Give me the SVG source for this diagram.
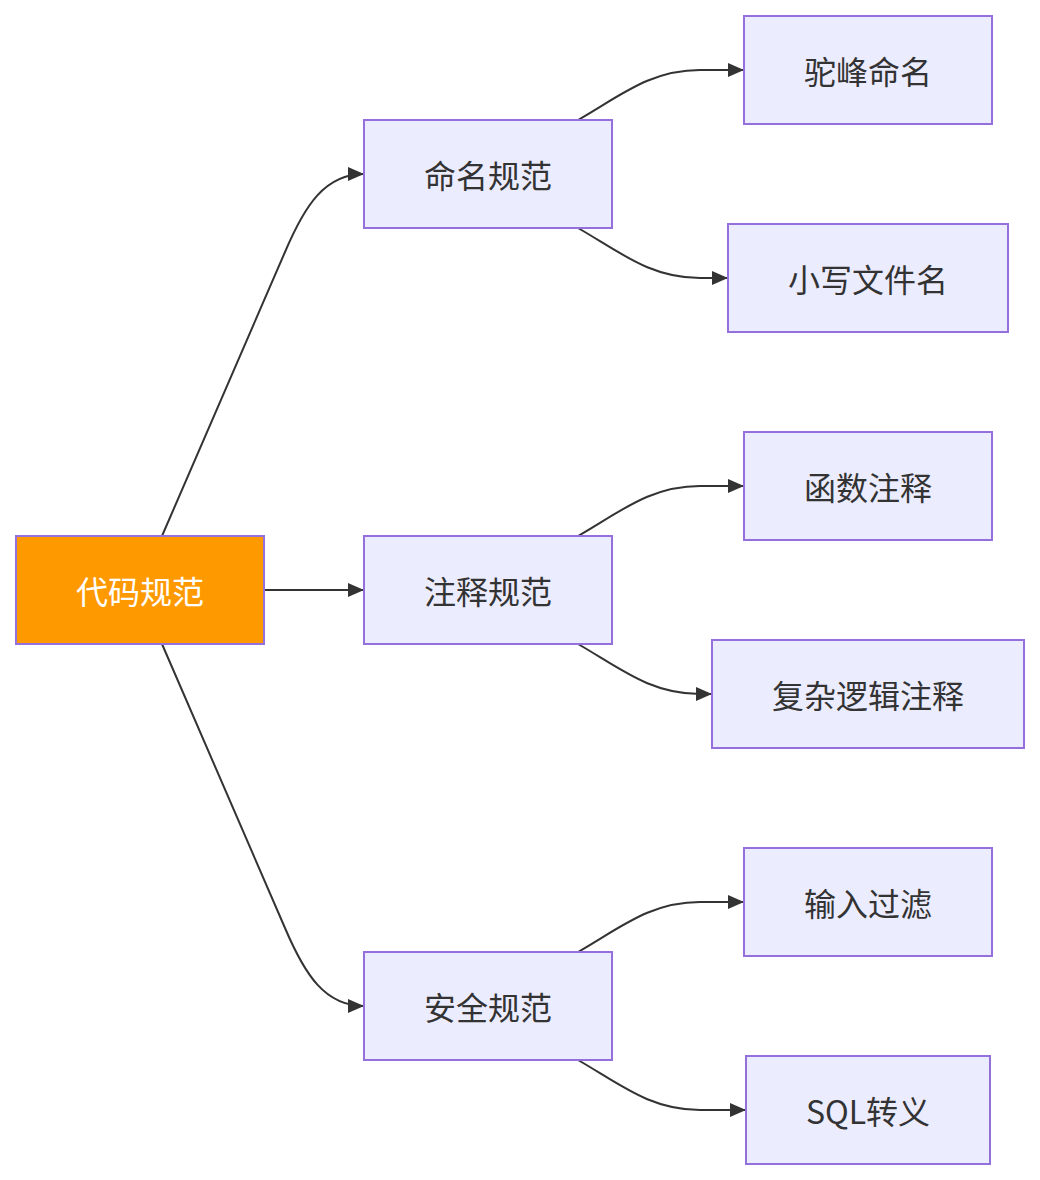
<svg xmlns="http://www.w3.org/2000/svg" width="1040" height="1180" viewBox="0 0 1040 1180">
<style>
.node rect{fill:#ECECFF;stroke:#9370DB;stroke-width:2}
.node text{font-family:"Noto Sans CJK SC","Noto Sans",sans-serif;font-size:32px;fill:#333;text-anchor:middle;dominant-baseline:central}
#root rect{fill:#ff9900}
#root text{fill:#fff}
.edge{fill:none;stroke:#333;stroke-width:2}
</style>
<defs>
<marker id="arr" markerUnits="userSpaceOnUse" markerWidth="16" markerHeight="14" refX="16" refY="7" orient="auto">
<path d="M0,0 L16,7 L0,14 z" fill="#333"/>
</marker>
</defs>
<rect width="1040" height="1180" fill="#fff"/>
<g id="edges">
<path class="edge" marker-end="url(#arr)" d="M162,536 L285,252 C305,205 325,174 364,174"/>
<path class="edge" marker-end="url(#arr)" d="M264,590 L364,590"/>
<path class="edge" marker-end="url(#arr)" d="M162,644 L285,928 C305,975 325,1006 364,1006"/>
<path class="edge" marker-end="url(#arr)" d="M578,120 C620,96 650,70 700,70 L744,70"/>
<path class="edge" marker-end="url(#arr)" d="M578,228 C620,252 650,278 700,278 L728,278"/>
<path class="edge" marker-end="url(#arr)" d="M578,536 C620,512 650,486 700,486 L744,486"/>
<path class="edge" marker-end="url(#arr)" d="M578,644 C620,668 650,694 700,694 L712,694"/>
<path class="edge" marker-end="url(#arr)" d="M578,952 C620,928 650,902 700,902 L744,902"/>
<path class="edge" marker-end="url(#arr)" d="M578,1060 C620,1084 650,1110 700,1110 L746,1110"/>
</g>
<g id="root" class="node"><rect x="16" y="536" width="248" height="108"/><text x="140" y="590">代码规范</text></g>
<g id="naming" class="node"><rect x="364" y="120" width="248" height="108"/><text x="488" y="174">命名规范</text></g>
<g id="comment" class="node"><rect x="364" y="536" width="248" height="108"/><text x="488" y="590">注释规范</text></g>
<g id="security" class="node"><rect x="364" y="952" width="248" height="108"/><text x="488" y="1006">安全规范</text></g>
<g id="camel" class="node"><rect x="744" y="16" width="248" height="108"/><text x="868" y="70">驼峰命名</text></g>
<g id="lowerfile" class="node"><rect x="728" y="224" width="280" height="108"/><text x="868" y="278">小写文件名</text></g>
<g id="funccomment" class="node"><rect x="744" y="432" width="248" height="108"/><text x="868" y="486">函数注释</text></g>
<g id="complexcomment" class="node"><rect x="712" y="640" width="312" height="108"/><text x="868" y="694">复杂逻辑注释</text></g>
<g id="inputfilter" class="node"><rect x="744" y="848" width="248" height="108"/><text x="868" y="902">输入过滤</text></g>
<g id="sqlescape" class="node"><rect x="746" y="1056" width="244" height="108"/><text x="868" y="1110">SQL转义</text></g>
</svg>
